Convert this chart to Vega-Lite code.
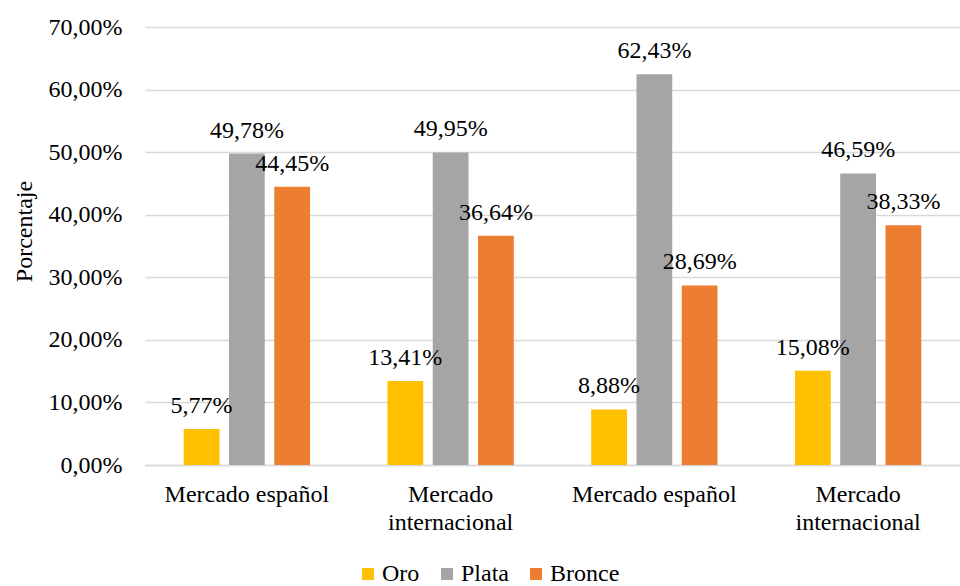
{
  "$schema": "https://vega.github.io/schema/vega-lite/v6.json",
  "width": 815,
  "height": 438,
  "autosize": {"type": "none"},
  "padding": {"left": 145, "top": 27, "right": 0, "bottom": 121},
  "background": "white",
  "config": {
    "locale": {"number": {"decimal": ",", "thousands": ".", "grouping": [3], "currency": ["", " €"]}},
    "font": "Liberation Serif",
    "view": {"stroke": null}
  },
  "data": {
    "values": [
      {"grupo": "g1", "medalla": "Oro", "valor": 0.0577},
      {"grupo": "g1", "medalla": "Plata", "valor": 0.4978},
      {"grupo": "g1", "medalla": "Bronce", "valor": 0.4445},
      {"grupo": "g2", "medalla": "Oro", "valor": 0.1341},
      {"grupo": "g2", "medalla": "Plata", "valor": 0.4995},
      {"grupo": "g2", "medalla": "Bronce", "valor": 0.3664},
      {"grupo": "g3", "medalla": "Oro", "valor": 0.0888},
      {"grupo": "g3", "medalla": "Plata", "valor": 0.6243},
      {"grupo": "g3", "medalla": "Bronce", "valor": 0.2869},
      {"grupo": "g4", "medalla": "Oro", "valor": 0.1508},
      {"grupo": "g4", "medalla": "Plata", "valor": 0.4659},
      {"grupo": "g4", "medalla": "Bronce", "valor": 0.3833}
    ]
  },
  "encoding": {
    "x": {
      "field": "grupo",
      "type": "nominal",
      "sort": ["g1", "g2", "g3", "g4"],
      "scale": {"paddingInner": 0.38, "paddingOuter": 0.19},
      "axis": {
        "title": null,
        "labelAngle": 0,
        "labelExpr": "datum.value == 'g2' || datum.value == 'g4' ? ['Mercado', 'internacional'] : 'Mercado español'",
        "labelFont": "Liberation Serif",
        "labelFontSize": 24,
        "labelColor": "#000000",
        "labelPadding": 17,
        "labelLineHeight": 28,
        "ticks": false,
        "domain": true,
        "domainColor": "#d9d9d9",
        "domainWidth": 1.5
      }
    },
    "xOffset": {
      "field": "medalla",
      "sort": ["Oro", "Plata", "Bronce"],
      "scale": {"paddingInner": 0.21, "paddingOuter": 0}
    },
    "y": {
      "field": "valor",
      "type": "quantitative",
      "scale": {"domain": [0, 0.7], "nice": false},
      "axis": {
        "values": [0, 0.1, 0.2, 0.3, 0.4, 0.5, 0.6, 0.7],
        "format": ".2%",
        "title": "Porcentaje",
        "titleFont": "Liberation Serif",
        "titleFontSize": 24,
        "titleFontWeight": "normal",
        "titleColor": "#000000",
        "titlePadding": 12,
        "titleY": 204,
        "labelFont": "Liberation Serif",
        "labelFontSize": 24,
        "labelColor": "#000000",
        "labelPadding": 23,
        "ticks": false,
        "domain": false,
        "grid": true,
        "gridColor": "#d9d9d9",
        "gridWidth": 1.5
      }
    }
  },
  "layer": [
    {
      "mark": {"type": "bar"},
      "encoding": {
        "color": {
          "field": "medalla",
          "type": "nominal",
          "scale": {"domain": ["Oro", "Plata", "Bronce"], "range": ["#FFC000", "#A5A5A5", "#ED7D31"]},
          "legend": {
            "title": null,
            "orient": "none",
            "direction": "horizontal",
            "legendX": 211,
            "legendY": 535,
            "padding": 0,
            "symbolType": "square",
            "symbolSize": 144,
            "symbolStrokeWidth": 0,
            "symbolOpacity": 1,
            "labelFont": "Liberation Serif",
            "labelFontSize": 24,
            "labelColor": "#000000",
            "labelOffset": 2,
            "columnPadding": 15
          }
        }
      }
    },
    {
      "mark": {"type": "text", "baseline": "alphabetic", "dy": -16, "fontSize": 24, "color": "#000000", "font": "Liberation Serif"},
      "encoding": {
        "text": {"field": "valor", "type": "quantitative", "format": ".2%"}
      }
    }
  ]
}
